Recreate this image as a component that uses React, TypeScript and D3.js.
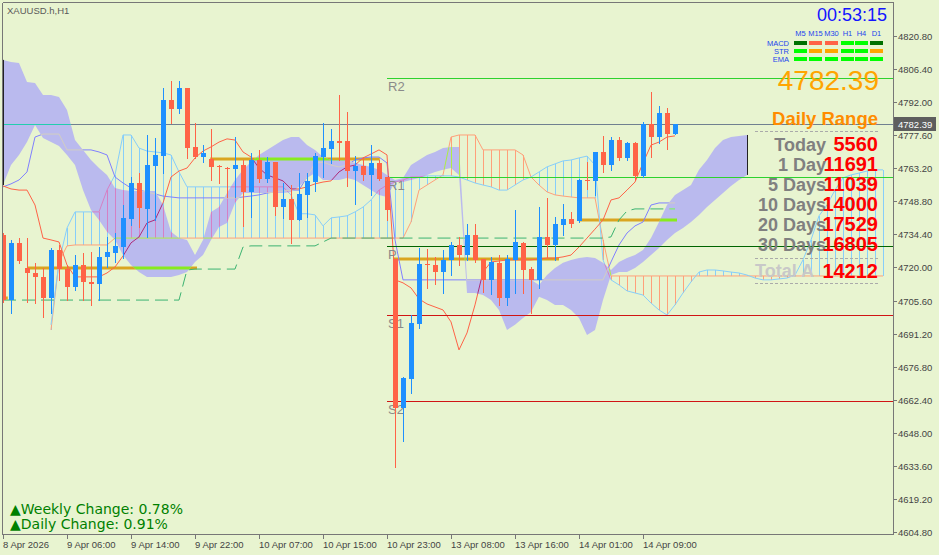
import React from "react";
import * as d3 from "d3";

// candles, one per H1 bar (8 Apr 22:00 -> 14 Apr 10:00)
const openP = [
  4734.2, 4705.8, 4730.7, 4719.8, 4717.6, 4715.9, 4706.7, 4727.6, 4719.3, 4711.5,
  4721.1, 4713.7, 4712.8, 4724.6, 4726.3, 4728.9, 4741.1, 4756.8, 4745.5, 4764.2,
  4768.5, 4792.9, 4789.0, 4798.2, 4772.5, 4768.1, 4767.2, 4764.4, 4763.5, 4762.9,
  4764.6, 4752.9, 4766.8, 4758.5, 4765.9, 4746.3, 4749.8, 4740.7, 4751.6, 4757.2,
  4768.1, 4771.6, 4774.9, 4775.1, 4762.0, 4764.2, 4760.3, 4765.5, 4759.4, 4723.7,
  4658.8, 4671.4, 4695.4, 4721.7, 4721.1, 4718.0, 4723.3, 4729.8, 4725.4, 4734.2,
  4723.7, 4714.6, 4722.0, 4706.7, 4723.3, 4730.7, 4719.3, 4714.6, 4733.3, 4729.8,
  4738.5, 4741.1, 4740.2, 4758.3, 4757.7, 4770.3, 4764.6, 4775.5, 4767.7, 4774.2,
  4759.8, 4782.5, 4776.8, 4787.3, 4778.1,
];
const highP = [
  4735.0, 4732.0, 4732.8, 4732.8, 4722.0, 4719.8, 4728.5, 4729.8, 4721.1, 4725.4,
  4726.3, 4726.7, 4728.9, 4733.3, 4735.0, 4747.2, 4759.4, 4761.1, 4777.7, 4776.4,
  4798.2, 4801.2, 4801.2, 4798.2, 4782.9, 4773.3, 4780.3, 4764.6, 4763.8, 4776.8,
  4766.8, 4769.9, 4771.2, 4768.1, 4765.9, 4756.8, 4755.9, 4761.1, 4761.1, 4769.9,
  4782.9, 4780.3, 4795.1, 4787.7, 4768.5, 4768.1, 4773.3, 4766.8, 4759.4, 4723.7,
  4672.3, 4699.3, 4728.5, 4728.1, 4724.6, 4727.6, 4731.1, 4733.3, 4738.9, 4738.9,
  4723.7, 4724.6, 4725.4, 4725.4, 4745.0, 4731.1, 4720.2, 4746.3, 4750.3, 4742.0,
  4747.6, 4744.2, 4758.5, 4765.9, 4770.3, 4777.3, 4776.8, 4776.8, 4774.6, 4774.6,
  4783.4, 4796.4, 4790.3, 4789.4, 4782.4,
];
const lowP = [
  4705.0, 4700.2, 4722.0, 4705.0, 4704.5, 4698.4, 4700.2, 4714.6, 4705.8, 4710.2,
  4705.8, 4703.7, 4705.8, 4720.2, 4722.4, 4724.1, 4738.5, 4737.6, 4733.3, 4740.7,
  4761.1, 4782.9, 4787.3, 4767.7, 4767.7, 4765.9, 4758.1, 4756.8, 4750.7, 4750.7,
  4738.1, 4742.0, 4757.2, 4757.2, 4742.9, 4741.6, 4730.7, 4740.7, 4742.0, 4753.3,
  4759.4, 4765.5, 4766.8, 4755.5, 4747.6, 4758.1, 4751.6, 4758.1, 4740.7, 4633.1,
  4644.4, 4665.3, 4693.7, 4711.1, 4712.8, 4708.9, 4716.7, 4721.1, 4723.3, 4722.4,
  4709.3, 4708.5, 4703.7, 4703.7, 4708.9, 4708.9, 4700.2, 4711.1, 4724.6, 4723.3,
  4734.2, 4737.6, 4739.8, 4754.2, 4751.6, 4761.6, 4762.5, 4766.8, 4766.8, 4758.1,
  4759.4, 4768.1, 4774.2, 4771.6, 4778.1,
];
const closeP = [
  4705.8, 4730.7, 4722.8, 4717.6, 4715.9, 4706.7, 4727.6, 4719.3, 4711.5, 4721.1,
  4713.7, 4712.8, 4724.6, 4726.7, 4729.4, 4741.6, 4756.8, 4745.9, 4764.6, 4769.0,
  4792.9, 4789.0, 4798.2, 4772.0, 4768.1, 4769.9, 4763.8, 4764.0, 4763.1, 4764.6,
  4752.9, 4766.8, 4758.5, 4765.9, 4746.3, 4749.8, 4740.7, 4752.0, 4757.7, 4768.5,
  4772.0, 4775.1, 4774.4, 4762.0, 4764.2, 4760.3, 4765.5, 4758.5, 4745.0, 4658.8,
  4671.9, 4695.8, 4721.5, 4721.1, 4718.0, 4723.3, 4729.8, 4725.4, 4734.2, 4723.3,
  4714.6, 4722.4, 4706.7, 4723.7, 4731.1, 4718.9, 4714.6, 4733.3, 4729.8, 4738.9,
  4741.1, 4738.9, 4758.1, 4757.9, 4770.3, 4764.6, 4775.5, 4767.7, 4774.2, 4759.8,
  4782.5, 4776.8, 4787.3, 4778.1, 4782.39,
];

// indicator lines
const tenkan = [
  4755.5, 4754.2, 4753.7, 4753.7, 4747.2, 4732.8, 4732.0, 4731.1, 4721.1, 4715.9,
  4715.9, 4715.9, 4715.9, 4717.6, 4720.2, 4725.0, 4730.7, 4733.3, 4739.4, 4740.7,
  4748.1, 4759.4, 4762.0, 4763.3, 4767.7, 4770.7, 4772.5, 4774.6, 4776.0, 4775.5,
  4770.3, 4768.1, 4763.3, 4760.3, 4759.0, 4757.7, 4754.2, 4754.2, 4755.1, 4756.4,
  4757.2, 4757.7, 4761.6, 4763.8, 4764.6, 4767.7, 4769.4, 4771.2, 4769.0, 4714.6,
  4713.3, 4711.1, 4706.3, 4704.1, 4702.8, 4701.5, 4696.3, 4684.1, 4691.5, 4703.7,
  4718.0, 4722.4, 4722.8, 4723.3, 4723.3, 4723.3, 4723.3, 4723.7, 4724.1, 4724.1,
  4724.6, 4725.4, 4728.9, 4732.8, 4736.7, 4740.7, 4749.4, 4750.3, 4753.7, 4757.2,
  4765.5, 4773.3, 4774.6, 4776.8, 4777.3,
];
const kijun = [
  4755.1, 4756.4, 4758.1, 4761.6, 4776.8, 4778.1, 4778.1, 4778.1, 4771.2, 4771.2,
  4771.2, 4771.2, 4770.3, 4769.0, 4759.4, 4756.8, 4754.6, 4753.7, 4752.9, 4752.0,
  4751.1, 4750.7, 4750.3, 4750.3, 4750.3, 4750.3, 4750.3, 4750.3, 4750.3, 4750.3,
  4750.7, 4751.1, 4751.6, 4752.4, 4752.9, 4753.3, 4753.7, 4753.7, 4759.4, 4765.5,
  4765.9, 4764.6, 4763.8, 4764.6, 4766.8, 4767.7, 4768.1, 4768.1, 4765.5, 4732.0,
  4714.6, 4714.6, 4714.6, 4714.6, 4714.6, 4714.6, 4714.6, 4714.6, 4714.6, 4714.6,
  4714.6, 4714.6, 4714.6, 4714.6, 4714.6, 4714.6, 4714.6, 4714.6, 4714.6, 4714.6,
  4714.6, 4714.6, 4714.6, 4714.6, 4714.6, 4714.6, 4722.4, 4729.8, 4735.0, 4738.1,
  4739.8, 4747.2, 4748.1, 4748.1, 4748.1,
];
const stopLevel = [
  4705.8, 4705.8, 4705.8, 4705.8, 4705.8, 4705.8, 4705.8, 4705.8, 4705.8, 4705.8,
  4705.8, 4705.8, 4705.8, 4705.8, 4705.8, 4705.8, 4705.8, 4705.8, 4705.8, 4705.8,
  4705.8, 4705.8, 4705.8, 4718.9, 4719.3, 4719.3, 4719.3, 4719.3, 4719.3, 4719.3,
  4728.9, 4729.4, 4729.4, 4729.4, 4729.4, 4729.4, 4729.4, 4729.4, 4729.4, 4729.4,
  4731.1, 4732.8, 4732.8, 4732.8, 4732.8, 4732.8, 4732.8, 4732.8, 4732.8, 4732.8,
  4732.8, 4732.8, 4732.8, 4732.8, 4732.8, 4732.8, 4732.8, 4732.8, 4732.8, 4732.8,
  4732.8, 4732.8, 4732.8, 4732.8, 4732.8, 4732.8, 4732.8, 4732.8, 4732.8, 4732.8,
  4732.8, 4732.8, 4732.8, 4732.8, 4732.8, 4732.8, 4733.3, 4740.7, 4744.6, 4745.5,
  4745.5, 4745.5, 4745.5, 4745.5, 4745.5,
];

// filled cloud, bars 0..93
const cloudUpper = [
  4810.4, 4809.5, 4809.0, 4800.8, 4800.3, 4795.1, 4795.1, 4794.2, 4788.6, 4775.5,
  4771.2, 4766.8, 4763.3, 4760.3, 4754.6, 4753.7, 4753.3, 4753.3, 4753.3, 4753.3,
  4747.2, 4735.5, 4732.8, 4732.0, 4725.4, 4732.0, 4744.2, 4746.3, 4752.4, 4758.1,
  4762.5, 4765.9, 4769.0, 4771.2, 4773.3, 4775.5, 4776.8, 4776.8, 4773.3, 4771.2,
  4768.1, 4766.8, 4766.8, 4766.8, 4765.5, 4764.6, 4763.8, 4762.5, 4760.3, 4758.1,
  4759.0, 4764.6, 4766.8, 4769.0, 4770.3, 4772.0, 4772.5, 4772.5, 4714.6, 4714.6,
  4714.6, 4714.6, 4714.6, 4714.6, 4714.6, 4714.6, 4714.6, 4712.4, 4716.7, 4719.8,
  4722.0, 4723.3, 4724.1, 4724.6, 4724.1, 4722.0, 4718.9, 4722.4, 4724.1, 4725.4,
  4727.6, 4732.8, 4739.8, 4747.2, 4751.6, 4753.7, 4755.9, 4762.5, 4766.8, 4772.0,
  4775.5, 4776.8, 4777.3, 4777.7,
];
const cloudLower = [
  4755.9, 4764.6, 4769.0, 4774.6, 4782.0, 4776.4, 4774.6, 4772.9, 4769.0, 4764.6,
  4753.7, 4745.0, 4740.7, 4735.5, 4732.0, 4725.4, 4721.1, 4718.0, 4715.9, 4715.9,
  4715.9, 4715.9, 4716.7, 4718.0, 4722.4, 4725.4, 4732.0, 4737.6, 4739.4, 4748.1,
  4752.4, 4752.4, 4752.4, 4752.4, 4752.4, 4752.4, 4752.9, 4755.1, 4759.0, 4761.1,
  4758.1, 4758.1, 4758.1, 4759.0, 4758.1, 4755.9, 4753.7, 4751.6, 4750.7, 4757.2,
  4757.2, 4758.1, 4759.0, 4760.3, 4761.6, 4762.5, 4763.3, 4760.3, 4708.9, 4708.9,
  4708.0, 4705.8, 4701.5, 4692.8, 4695.0, 4698.0, 4700.6, 4707.2, 4705.8, 4703.7,
  4703.7, 4701.5, 4698.0, 4690.6, 4692.8, 4705.8, 4716.7, 4718.0, 4718.0, 4719.8,
  4722.4, 4725.4, 4728.5, 4732.0, 4735.0, 4737.2, 4739.8, 4742.9, 4746.3, 4749.4,
  4752.4, 4755.5, 4758.1, 4760.3,
];

// hatched spans, bars 6..110
const spanStart = 6;
const spanBlue = [
  4695.0, 4722.4, 4737.2, 4744.2, 4744.2, 4744.2, 4744.2, 4753.7, 4760.3, 4777.7,
  4777.7, 4772.0, 4770.7, 4770.3, 4769.9, 4769.0, 4761.6, 4755.1, 4755.1, 4755.1,
  4755.1, 4755.1, 4755.1, 4755.1, 4755.1, 4755.1, 4755.1, 4755.1, 4755.1, 4755.1,
  4751.6, 4743.4, 4743.4, 4742.9, 4738.1, 4741.6, 4742.0, 4742.5, 4744.2, 4746.3,
  4749.4, 4753.7, 4755.9, 4757.2, 4758.1, 4759.4, 4759.4, 4759.9, 4759.9, 4759.9,
  4759.9, 4759.4, 4758.1, 4756.8, 4755.9, 4755.1, 4753.7, 4753.7, 4755.9, 4758.1,
  4759.4, 4761.6, 4763.8, 4765.1, 4766.4, 4766.8, 4767.7, 4768.5, 4764.6, 4723.3,
  4714.6, 4712.4, 4709.8, 4708.9, 4708.0, 4704.5, 4701.5, 4699.3, 4703.7, 4708.9,
  4713.7, 4718.0, 4718.9, 4718.9, 4718.5, 4718.0, 4717.6, 4716.7, 4715.4, 4714.6,
  4714.6, 4715.0, 4715.4, 4716.7, 4723.3, 4732.0, 4742.5, 4747.2, 4753.7, 4759.0,
  4760.3, 4761.1, 4762.0, 4762.5, 4762.5,
];
const spanSalmon = [
  4692.8, 4722.4, 4729.4, 4729.8, 4729.8, 4729.8, 4729.8, 4729.8, 4732.8, 4732.8,
  4732.8, 4732.8, 4732.8, 4732.8, 4732.8, 4732.8, 4732.8, 4732.8, 4732.8, 4732.8,
  4732.8, 4732.8, 4732.8, 4732.8, 4732.8, 4732.8, 4732.8, 4732.8, 4732.8, 4732.8,
  4732.8, 4732.8, 4732.8, 4732.8, 4732.8, 4732.8, 4732.8, 4732.8, 4732.8, 4732.8,
  4732.8, 4732.8, 4732.8, 4732.8, 4732.8, 4739.8, 4753.7, 4755.9, 4758.1, 4760.3,
  4776.8, 4777.7, 4777.7, 4777.7, 4771.2, 4771.2, 4771.2, 4771.2, 4771.2, 4769.0,
  4759.4, 4755.9, 4752.9, 4751.6, 4751.1, 4750.7, 4750.3, 4750.3, 4750.3, 4732.0,
  4716.3, 4716.3, 4716.3, 4716.3, 4716.3, 4716.3, 4716.3, 4716.3, 4716.3, 4716.3,
  4716.3, 4716.3, 4716.3, 4716.3, 4716.3, 4716.3, 4716.3, 4716.3, 4716.3, 4716.3,
  4716.3, 4716.3, 4716.3, 4716.3, 4716.3, 4716.3, 4716.3, 4716.3, 4716.3, 4716.3,
  4716.3, 4716.3, 4716.3, 4716.3, 4716.3,
];

// thick session levels
const levelPrice = [4706.7, 4719.8, 4767.2, 4723.7, 4740.7];
const levelFrom = [0, 3, 25.9, 48.75, 72.1];
const levelTo = [0.6, 24.25, 47.1, 69.5, 84.25];

// pivots
const pivotNames = ["R2", "R1", "P", "S1", "S2"];
const pivotValues = [4802.5, 4759.4, 4729.4, 4699.3, 4661.9];
const pivotColors = ["#2ED22E", "#2ED22E", "#006400", "#D01414", "#D01414"];
const pivotStart = 48;

const timeBars = [0, 8, 16, 24, 32, 40, 48, 56, 64, 72, 80];
const timeLabels = [
  "8 Apr 2026", "9 Apr 06:00", "9 Apr 14:00", "9 Apr 22:00", "10 Apr 07:00",
  "10 Apr 15:00", "10 Apr 23:00", "13 Apr 08:00", "13 Apr 16:00", "14 Apr 01:00", "14 Apr 09:00",
];
const priceTicks = [
  4820.8, 4806.4, 4792.0, 4777.6, 4763.2, 4748.8, 4734.4, 4720.0,
  4705.6, 4691.2, 4676.8, 4662.4, 4648.0, 4633.6, 4619.2, 4604.8,
];
const lastPrice = 4782.39;

const clockText = "00:53:15";
const tfNames = ["M5", "M15", "M30", "H1", "H4", "D1"];
const signalRows = ["MACD", "STR", "EMA"];
const signalColors = [
  ["#007000", "#FF6347", "#FF6347", "#00FF00", "#00FF00", "#007000"],
  ["#00FF00", "#FFA500", "#FFA500", "#00FF00", "#00FF00", "#FFA500"],
  ["#00FF00", "#00FF00", "#00FF00", "#00FF00", "#00FF00", "#00FF00"],
];
const rangeLabels = ["Today", "1 Day", "5 Days", "10 Days", "20 Days", "30 Days"];
const rangeValues = [5560, 11691, 11039, 14000, 17529, 16805];
const totalAvg = 14212;
const weeklyChange = 0.78;
const dailyChange = 0.91;

const bg = "#E8F4D0";
const font = "'Liberation Sans', Arial, sans-serif";
const colX = [794, 809, 825, 841, 855, 870];

// the cloud is drawn in xor mode, so whatever lies under it changes colour
const xorColor = (c: string) => {
  const k = d3.rgb(c);
  return d3.rgb(k.r ^ 82, k.g ^ 78, k.b ^ 62).formatHex();
};

const App = () => {
  const x = d3.scaleLinear().domain([0, 110]).range([3, 883]);
  const y = d3.scaleLinear().domain([4604.8, 4820.8]).range([532, 36]);
  const px = (i: number) => Math.round(x(i)) + 0.5;
  const py = (v: number) => Math.round(y(v)) + 0.5;

  const line = (vals: number[], start = 0) =>
    d3
      .line<number>()
      .x((d, i) => x(i + start))
      .y((d) => y(d))(vals) as string;

  const cloudPath = d3
    .area<number>()
    .x((d, i) => x(i))
    .y0((d, i) => y(cloudLower[i]))
    .y1((d) => y(d))(cloudUpper) as string;

  const indicators = (col: (c: string) => string) => (
    <g>
      <line x1={3} x2={893} y1={py(lastPrice)} y2={py(lastPrice)} stroke={col("#708090")} />
      {levelPrice.map((p, k) => (
        <line
          key={k}
          x1={x(levelFrom[k])}
          x2={x(levelTo[k])}
          y1={Math.round(y(p))}
          y2={Math.round(y(p))}
          stroke={col("#DAA520")}
          strokeWidth={3}
        />
      ))}
      {spanBlue.map((b, k) => {
        const s = spanSalmon[k];
        return (
          <line
            key={k}
            x1={px(k + spanStart)}
            x2={px(k + spanStart)}
            y1={y(b)}
            y2={y(s)}
            stroke={col(b >= s ? "#87CEFA" : "#FFA07A")}
            shapeRendering="crispEdges"
          />
        );
      })}
      <path d={line(spanSalmon, spanStart)} fill="none" stroke={col("#FFA07A")} />
      <path d={line(spanBlue, spanStart)} fill="none" stroke={col("#87CEFA")} />
      <path d={line(stopLevel)} fill="none" stroke={col("#3CB371")} strokeDasharray="13,6" />
      <path d={line(kijun)} fill="none" stroke={col("#8080FF")} />
      <path d={line(tenkan)} fill="none" stroke={col("#FF6347")} />
    </g>
  );

  return (
    <svg
      width={939}
      height={555}
      style={{ position: "fixed", left: 0, top: 0, display: "block" }}
      fontFamily={font}
    >
      <defs>
        <clipPath id="plotArea">
          <rect x={3} y={3} width={890} height={531} />
        </clipPath>
        <clipPath id="cloudArea">
          <path d={cloudPath} />
        </clipPath>
      </defs>
      <rect width={939} height={555} fill={bg} />

      <g clipPath="url(#plotArea)">
        {indicators((c) => c)}
        <path d={cloudPath} fill={xorColor(bg)} />
        <g clipPath="url(#cloudArea)">{indicators(xorColor)}</g>
        {[0, 93].map((i) => (
          <line
            key={i}
            x1={px(i)}
            x2={px(i)}
            y1={y(cloudUpper[i])}
            y2={y(cloudLower[i])}
            stroke="#222"
          />
        ))}

        {pivotValues.map((v, k) => (
          <g key={k}>
            <line x1={x(pivotStart)} x2={893} y1={py(v)} y2={py(v)} stroke={pivotColors[k]} />
            <text x={x(pivotStart) + 1} y={Math.round(y(v)) + 13} fontSize={13} fill="#8A8A8A">
              {pivotNames[k]}
            </text>
          </g>
        ))}

        {openP.map((o, i) => {
          const c = closeP[i];
          const col = c >= o ? "#1E90FF" : "#FF6347";
          const cx = Math.round(x(i));
          const top = Math.round(y(Math.max(o, c)));
          const bot = Math.round(y(Math.min(o, c)));
          return (
            <g key={i} shapeRendering="crispEdges">
              <line
                x1={cx + 0.5}
                x2={cx + 0.5}
                y1={Math.round(y(highP[i]))}
                y2={Math.round(y(lowP[i])) + 1}
                stroke={col}
              />
              <rect x={cx - 2} y={top} width={5} height={Math.max(1, bot - top)} fill={col} />
            </g>
          );
        })}
      </g>

      {/* frame and axes */}
      <g stroke="#777" shapeRendering="crispEdges">
        <line x1={2.5} x2={893.5} y1={2.5} y2={2.5} />
        <line x1={2.5} x2={2.5} y1={2.5} y2={534.5} />
        <line x1={893.5} x2={893.5} y1={2.5} y2={534.5} />
        <line x1={2.5} x2={893.5} y1={534.5} y2={534.5} />
        {priceTicks.map((t) => (
          <line key={t} x1={893} x2={897} y1={py(t)} y2={py(t)} />
        ))}
        {timeBars.map((b) => (
          <line key={b} x1={px(b)} x2={px(b)} y1={534} y2={539} />
        ))}
      </g>
      {priceTicks.map((t) => (
        <text key={t} x={898} y={Math.round(y(t)) + 4} fontSize={9.5} fill="#444">
          {t.toFixed(2)}
        </text>
      ))}
      {timeBars.map((b, k) => (
        <text key={b} x={Math.round(x(b))} y={548} fontSize={9.5} fill="#444">
          {timeLabels[k]}
        </text>
      ))}
      <rect x={894} y={Math.round(y(lastPrice)) - 7} width={42} height={14} fill="#5E5E5E" />
      <text x={898} y={Math.round(y(lastPrice)) + 4} fontSize={9.5} fill="#fff">
        {lastPrice.toFixed(2)}
      </text>

      <text x={7} y={14} fontSize={9.5} fill="#5a5a5a">
        XAUUSD.h,H1
      </text>

      {/* signal panel */}
      <text x={887} y={21} fontSize={18} fill="#1414FF" textAnchor="end">
        {clockText}
      </text>
      {tfNames.map((n, k) => (
        <text key={n} x={colX[k] + 6.5} y={36} fontSize={7.5} fill="#2244EE" textAnchor="middle">
          {n}
        </text>
      ))}
      {signalRows.map((r, j) => (
        <g key={r}>
          <text x={789} y={45.5 + j * 8} fontSize={7.5} fill="#2244EE" textAnchor="end">
            {r}
          </text>
          {signalColors[j].map((c, k) => (
            <rect key={k} x={colX[k]} y={41 + j * 8} width={13} height={4} fill={c} />
          ))}
        </g>
      ))}
      <text x={879} y={90} fontSize={28} fill="#FFA500" textAnchor="end">
        {lastPrice.toFixed(2)}
      </text>
      <text x={878} y={125} fontSize={18.5} fontWeight="bold" fill="#FF8C00" textAnchor="end">
        Daily Range
      </text>
      {[131.5, 258.5, 283.5].map((v) => (
        <line key={v} x1={755} x2={878} y1={v} y2={v} stroke="#AAA" strokeDasharray="3,2" />
      ))}
      {rangeLabels.map((l, k) => (
        <g key={l} fontWeight="bold">
          <text x={826} y={151 + k * 20} fontSize={18} fill="#808080" textAnchor="end">
            {l}
          </text>
          <text x={878} y={151 + k * 20} fontSize={20} fill="#FF0000" textAnchor="end">
            {rangeValues[k]}
          </text>
        </g>
      ))}
      <g fontWeight="bold">
        <text x={755} y={277} fontSize={18} fill="#C8C8C8">
          Total A
        </text>
        <text x={878} y={278} fontSize={20} fill="#FF0000" textAnchor="end">
          {totalAvg}
        </text>
      </g>

      <g fontFamily="'DejaVu Sans', sans-serif" fontSize={14} fill="#008000">
        <text x={10} y={514}>{`▲Weekly Change: ${weeklyChange.toFixed(2)}%`}</text>
        <text x={10} y={529}>{`▲Daily Change: ${dailyChange.toFixed(2)}%`}</text>
      </g>
    </svg>
  );
};

export default App;
